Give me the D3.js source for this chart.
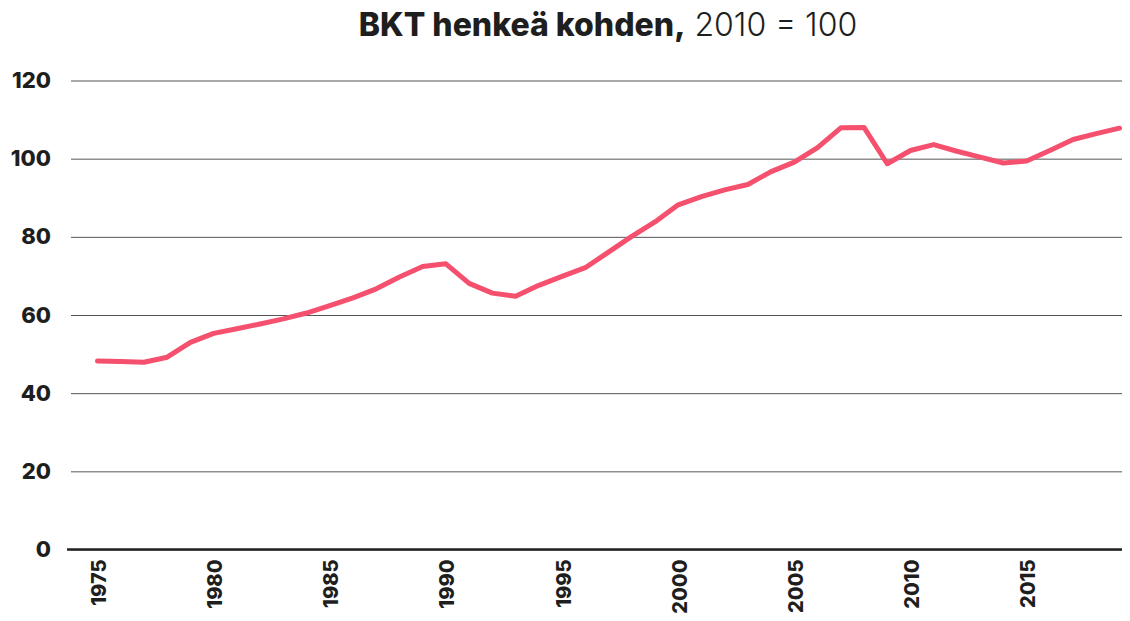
<!DOCTYPE html>
<html>
<head>
<meta charset="utf-8">
<script src="https://cdn.jsdelivr.net/npm/d3@7"></script>
<style>
  body { margin: 0; background: #fff; }
  text { font-family: Inter, "DejaVu Sans", sans-serif; fill: #1e1e1e; }
</style>
</head>
<body>
<div class="chart"></div>
<script>
// GDP per capita, 2010 = 100
var years = [1975, 1976, 1977, 1978, 1979, 1980, 1981, 1982, 1983, 1984,
  1985, 1986, 1987, 1988, 1989, 1990, 1991, 1992, 1993, 1994,
  1995, 1996, 1997, 1998, 1999, 2000, 2001, 2002, 2003, 2004,
  2005, 2006, 2007, 2008, 2009, 2010, 2011, 2012, 2013, 2014,
  2015, 2016, 2017, 2018, 2019];
var gdpIndex = [48.2, 48.1, 47.9, 49.2, 53.0, 55.3, 56.5, 57.7, 59.0, 60.5,
  62.4, 64.4, 66.7, 69.7, 72.4, 73.1, 68.1, 65.6, 64.8, 67.6,
  69.9, 72.1, 76.1, 80.1, 83.8, 88.2, 90.3, 92.0, 93.4, 96.7,
  99.1, 102.8, 107.9, 108.0, 98.7, 102.1, 103.6, 101.9, 100.4, 98.9,
  99.4, 102.1, 104.9, 106.4, 107.8];
var yTicks = [0, 20, 40, 60, 80, 100, 120];
var xTicks = [1975, 1980, 1985, 1990, 1995, 2000, 2005, 2010, 2015];

var svgWidth = 1130;
var svgHeight = 621;

var svg = d3.select(".chart")
  .append("svg")
  .attr("width", svgWidth)
  .attr("height", svgHeight);

// scales
var xScale = d3.scaleLinear()
  .domain([1975, 2019])
  .range([97.5, 1119.5]);

var yScale = d3.scaleLinear()
  .domain([0, 120])
  .range([549.5, 80.5]);

// title
var title = svg.append("text")
  .attr("x", 608)
  .attr("y", 36)
  .attr("text-anchor", "middle")
  .style("font-size", "32px");
title.append("tspan").style("font-weight", 800).text("BKT henkeä kohden,");
title.append("tspan").style("font-weight", 300).text(" 2010 = 100");

// gridlines + y labels
var yAxis = d3.axisLeft(yScale)
  .tickValues(yTicks)
  .tickSize(-1051)
  .tickPadding(21)
  .tickFormat(d3.format("d"));

var yG = svg.append("g")
  .attr("transform", "translate(71, 0)")
  .call(yAxis);
yG.select(".domain").remove();
yG.selectAll(".tick line")
  .attr("stroke", "#555")
  .attr("stroke-width", 1);
yG.selectAll(".tick text")
  .attr("x", -20)
  .style("font-size", "22px")
  .style("font-weight", 800);

// baseline
svg.append("line")
  .attr("x1", 67)
  .attr("x2", 1122)
  .attr("y1", yScale(0))
  .attr("y2", yScale(0))
  .attr("stroke", "#222")
  .attr("stroke-width", 2.5);

// x labels
var xAxis = d3.axisBottom(xScale)
  .tickValues(xTicks)
  .tickSize(0)
  .tickFormat(d3.format("d"));

var xG = svg.append("g")
  .attr("transform", `translate(0, ${yScale(0)})`)
  .call(xAxis);
xG.select(".domain").remove();
xG.selectAll(".tick text")
  .attr("transform", "rotate(-90)")
  .attr("x", -10)
  .attr("y", 1)
  .attr("dy", "0.35em")
  .attr("text-anchor", "end")
  .style("font-size", "20px")
  .style("font-weight", 800);

// line
var line = d3.line()
  .x((d, i) => xScale(years[i]))
  .y(d => yScale(d));

svg.append("path")
  .datum(gdpIndex)
  .attr("d", line)
  .attr("fill", "none")
  .attr("stroke", "#f5506e")
  .attr("stroke-width", 5)
  .attr("stroke-linejoin", "round")
  .attr("stroke-linecap", "round");
</script>
</body>
</html>
